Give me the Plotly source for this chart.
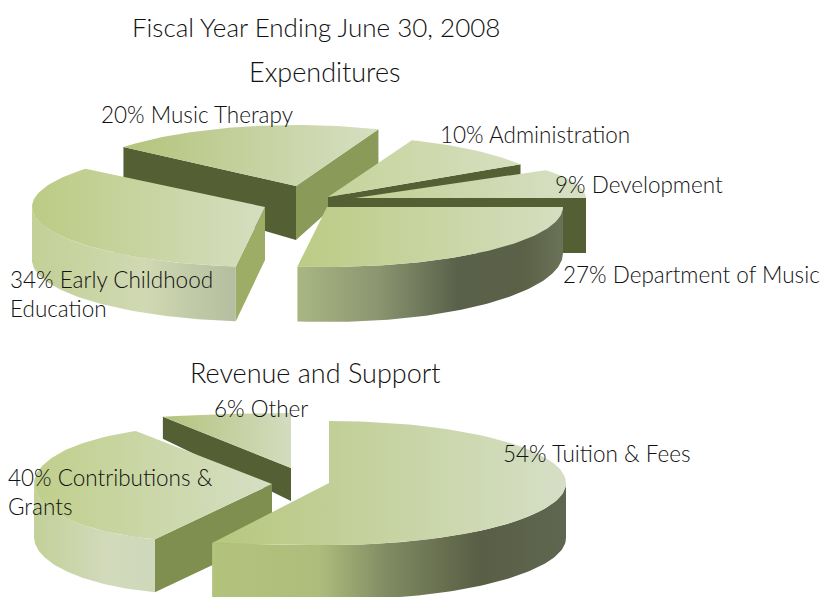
import math
import numpy as np
import plotly.graph_objects as go

# ---- data ----
exp_names = ["Development", "Administration", "Music Therapy", "Early Childhood<br>Education", "Department of Music"]
exp_values = [9, 10, 20, 34, 27]
rev_names = ["Other", "Contributions &<br>Grants", "Tuition & Fees"]
rev_values = [6, 40, 54]
title_text = "Fiscal Year Ending June 30, 2008"
exp_title = "Expenditures"
rev_title = "Revenue and Support"

# ---- style: per-wedge placement of the pulled-out 3D slices (canvas units) ----
DARK = "#555f34"
S_EXP = {
    "Music Therapy": dict(c=(296, 186), r=(224, 224, 61), d=(54, .3), top=("#b4c47c", "#d6dfc2"), w1="#8a9a58", w2=DARK),
    "Administration": dict(c=(328, 197), r=(228, 228, 61), d=(30, 0), top=("#c6d39a", "#d6dfc0"), w1=DARK),
    "Development": dict(c=(327, 198), r=(259, 259, 52), a=(355, 198), d=(55, 0), top=("#c2cf93", "#d8e0c6"), w1=DARK),
    "Department of Music": dict(c=(327, 207), r=(236, 236, 60), d=(46, .15), top=("#bccb84", "#d5dec0"),
                                arc=[[0, "#a9b684"], [.3, "#8c9670"], [.6, "#5a614a"], [.85, "#5b6147"], [1, "#6a7258"]]),
    "Early Childhood<br>Education": dict(c=(265, 207), r=(233, 233, 60), d=(53, .03), top=("#bccb84", "#d5dec0"), w2="#9dad66",
                                         arc=[[0, "#c3d096"], [.55, "#d0d9b2"], [1, "#b4bd9e"]]),
}
S_REV = {
    "Other": dict(c=(291, 468), r=(348, 348, 55), d=(33, .216), top=("#b4c37d", "#d3dcbf"), w2=DARK),
    "Contributions &<br>Grants": dict(c=(195, 484), a=(272, 484), r=(161, 161, 57), d=(53, 0), top=("#c0cf8c", "#d6dfc4"), w2="#7f8f50",
                                      arc=[[0, "#c3d098"], [.6, "#d2dabb"], [1, "#d0d8bc"]]),
    "Tuition & Fees": dict(c=(329, 483), r=(237, 470, 62), d=(55, 0), top=("#b7c77e", "#d6dfc6"),
                           arc=[[0, "#b3c37c"], [.3, "#aebd7c"], [.5, "#7f8a62"], [.75, "#595f45"], [1, "#5f6650"]]),
}
TEXT = "#111111"
FONT = "Lato Light, Lato"


def pt(s, t):
    c, (rr, rl, ry) = s["c"], s["r"]
    co, si = math.cos(math.radians(t)), math.sin(math.radians(t))
    return c[0] + (rr if co >= 0 else rl) * co, c[1] - ry * si


def drop(s, y):
    a = s.get("a", s["c"])
    return s["d"][0] + s["d"][1] * (y - a[1])


def poly(fig, xs, ys, grad=None, color=None):
    kw = dict(fill="toself", mode="lines", line=dict(width=0), hoverinfo="skip", showlegend=False)
    if grad:
        fig.add_trace(go.Scatter(x=xs, y=ys, fillgradient=dict(type="horizontal", colorscale=grad), **kw))
    else:
        fig.add_trace(go.Scatter(x=xs, y=ys, fillcolor=color, **kw))


def wedge(fig, s, t1, t2):
    a = s.get("a", s["c"])
    for t, key in ((t1, "w1"), (t2, "w2")):
        if key in s:
            x, y = pt(s, t)
            poly(fig, [a[0], x, x, a[0]], [a[1], y, y + drop(s, y), a[1] + drop(s, a[1])], color=s[key])
    if "arc" in s:
        lo, hi = max(t1, 180), min(t2, 360)
        ts = np.linspace(lo, hi, 80)
        p = [pt(s, t) for t in ts]
        xs = [q[0] for q in p]
        ys = [q[1] for q in p]
        poly(fig, xs + xs[::-1], ys + [y + drop(s, y) for y in ys[::-1]], grad=s["arc"])
    ts = np.linspace(t1, t2, 80)
    p = [pt(s, t) for t in ts]
    poly(fig, [a[0]] + [q[0] for q in p] + [a[0]], [a[1]] + [q[1] for q in p] + [a[1]],
         grad=[[0, s["top"][0]], [1, s["top"][1]]])


def spans(names, values, start):
    out, t = {}, start
    for n, v in zip(names, values):
        out[n] = (t, t + v * 3.6)
        t += v * 3.6
    return out


fig = go.Figure()
sp = spans(exp_names, exp_values, 0)
for n in ["Music Therapy", "Administration", "Development", "Department of Music", "Early Childhood<br>Education"]:
    wedge(fig, S_EXP[n], *sp[n])
sp = spans(rev_names, rev_values, 90)
for n in ["Other", "Contributions &<br>Grants", "Tuition & Fees"]:
    wedge(fig, S_REV[n], *sp[n])


def note(text, x, y, size=22.5):
    fig.add_annotation(text=text, x=x, y=y, xref="x", yref="y", xanchor="left", yanchor="middle", align="left",
                       showarrow=False, borderpad=0, font=dict(family=FONT, size=size, color=TEXT))


note(title_text, 131, 27, 26)
note(exp_title, 248, 71, 27)
note(rev_title, 189, 372, 27)
place = {
    "Music Therapy": (100, 114), "Administration": (439, 134), "Development": (554, 184),
    "Department of Music": (562, 274), "Early Childhood<br>Education": (9, 294),
    "Other": (213, 408), "Tuition & Fees": (502, 453), "Contributions &<br>Grants": (7, 492),
}
for names, values in ((exp_names, exp_values), (rev_names, rev_values)):
    for n, v in zip(names, values):
        note(f"{v}% {n}", *place[n])

fig.update_layout(width=825, height=597, autosize=False, margin=dict(l=0, r=0, t=0, b=0),
                  paper_bgcolor="white", plot_bgcolor="white", showlegend=False,
                  xaxis=dict(range=[0, 825], visible=False, fixedrange=True),
                  yaxis=dict(range=[597, 0], visible=False, fixedrange=True))
fig.write_html("out.html", config={"displayModeBar": False},
               post_script="document.body.style.margin='0';document.documentElement.style.overflow='hidden';")
